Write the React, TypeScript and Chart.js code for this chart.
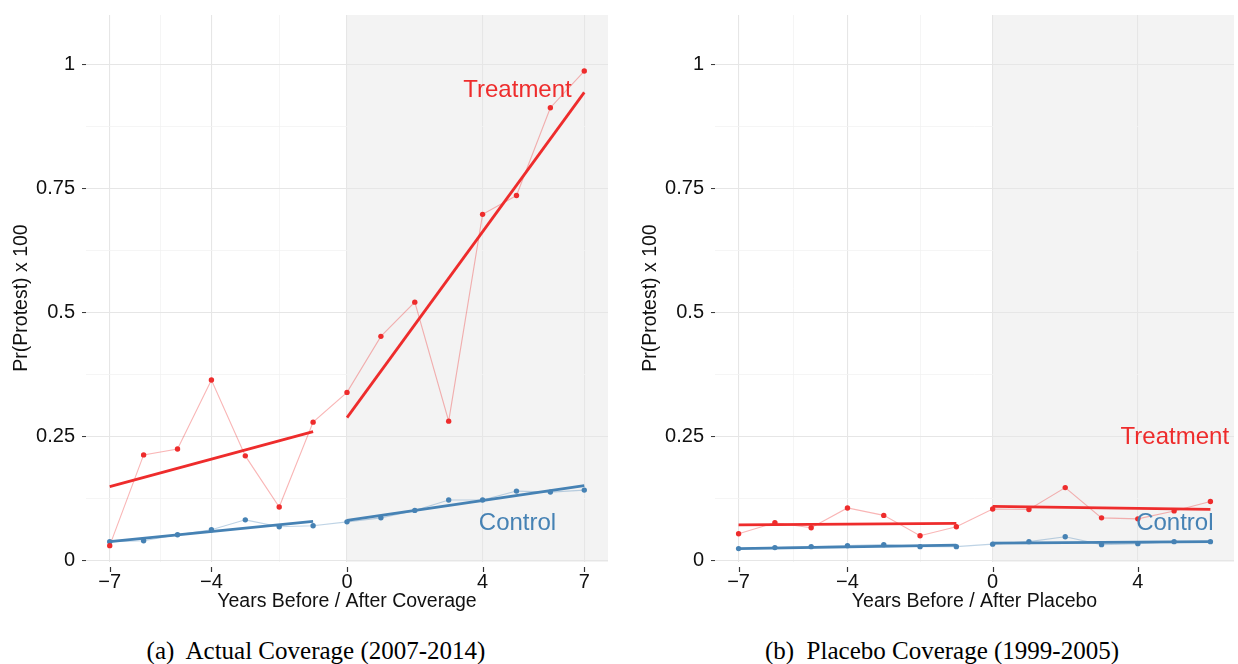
import React, { useEffect, useRef } from 'react';
import { Chart, registerables } from 'chart.js';

Chart.register(...registerables);

const RED = '#EE2C2C';
const RED_LIGHT = 'rgba(238,44,44,0.35)';
const BLUE = '#4682B4';
const BLUE_LIGHT = 'rgba(70,130,180,0.35)';
const FONT = '"Liberation Sans", Arial, Helvetica, sans-serif';

// ---------- Panel (a): Actual coverage ----------
const yearsA = [-7, -6, -5, -4, -3, -2, -1, 0, 1, 2, 3, 4, 5, 6, 7];
const treatA = [0.030, 0.213, 0.225, 0.364, 0.211, 0.108, 0.279, 0.339, 0.452, 0.521, 0.281, 0.698, 0.736, 0.913, 0.987];
const controlA = [0.038, 0.040, 0.052, 0.062, 0.082, 0.068, 0.070, 0.078, 0.086, 0.101, 0.122, 0.122, 0.140, 0.138, 0.142];
const fitPreYears = [-7, -1];
const fitPostYearsA = [0, 7];
const treatFitPreA = [0.149, 0.260];
const treatFitPostA = [0.288, 0.944];
const controlFitPreA = [0.038, 0.079];
const controlFitPostA = [0.081, 0.151];

// ---------- Panel (b): Placebo coverage ----------
const yearsB = [-7, -6, -5, -4, -3, -2, -1, 0, 1, 2, 3, 4, 5, 6];
const treatB = [0.054, 0.076, 0.066, 0.106, 0.091, 0.050, 0.068, 0.104, 0.103, 0.147, 0.086, 0.084, 0.100, 0.119];
const controlB = [0.024, 0.026, 0.028, 0.030, 0.032, 0.028, 0.028, 0.033, 0.038, 0.048, 0.032, 0.034, 0.038, 0.038];
const fitPostYearsB = [0, 6];
const treatFitPreB = [0.072, 0.075];
const treatFitPostB = [0.109, 0.103];
const controlFitPreB = [0.024, 0.031];
const controlFitPostB = [0.035, 0.038];

// ---------- Axes ----------
const yMajor = [0, 0.25, 0.5, 0.75, 1];
const yLabels = ['0', '0.25', '0.5', '0.75', '1'];
const yMinor = [0.125, 0.375, 0.625, 0.875];
const xMajorA = [-7, -4, 0, 4, 7];
const xMajorB = [-7, -4, 0, 4];
const xMinor = [-5.5, -2, 2, 5.5];
const yTitle = 'Pr(Protest) x 100';
const xTitleA = 'Years Before / After Coverage';
const xTitleB = 'Years Before / After Placebo';
const captionA = '(a)  Actual Coverage (2007-2014)';
const captionB = '(b)  Placebo Coverage (1999-2005)';

const pts = (xs: number[], ys: number[]) => xs.map((x, i) => ({ x, y: ys[i] }));
const fmtX = (v: number) => (v < 0 ? '\u2212' + Math.abs(v) : String(v));

type PanelProps = {
  years: number[];
  treat: number[];
  control: number[];
  fitPostYears: number[];
  treatFitPre: number[];
  treatFitPost: number[];
  controlFitPre: number[];
  controlFitPost: number[];
  xMin: number;
  xMax: number;
  xMajor: number[];
  xTitle: string;
  yAxisWidth: number;
  rightPad: number;
  yTitleX: number;
  treatLabel: { x: number; y: number };
  controlLabel: { x: number; y: number };
  left: number;
};

const CW = 619;
const CH = 620;
const PANEL_TOP = 15;
const PANEL_BOTTOM = 562;

function Panel(p: PanelProps) {
  const ref = useRef<HTMLCanvasElement | null>(null);
  useEffect(() => {
    if (!ref.current) return;
    const xMajor = p.xMajor;
    const isMajorX = (v: number) => xMajor.indexOf(v) >= 0;
    const isMajorY = (v: number) => yMajor.indexOf(v) >= 0;

    const decor = {
      id: 'decor',
      beforeDraw(chart: any) {
        const { ctx, chartArea, scales } = chart;
        const x0 = scales.x.getPixelForValue(0);
        ctx.save();
        ctx.fillStyle = '#f3f3f3';
        ctx.fillRect(x0, chartArea.top, chartArea.right - x0, chartArea.bottom - chartArea.top);
        ctx.restore();
      },
      afterDraw(chart: any) {
        const { ctx, chartArea, scales } = chart;
        ctx.save();
        // x tick marks
        ctx.strokeStyle = '#333';
        ctx.lineWidth = 1.2;
        xMajor.forEach((v) => {
          const px = Math.round(scales.x.getPixelForValue(v)) + 0.5;
          ctx.beginPath();
          ctx.moveTo(px, chartArea.bottom + 5);
          ctx.lineTo(px, chartArea.bottom + 10);
          ctx.stroke();
        });
        // axis titles
        ctx.fillStyle = '#111';
        ctx.font = `19.5px ${FONT}`;
        ctx.textAlign = 'center';
        ctx.textBaseline = 'middle';
        ctx.fillText(p.xTitle, (chartArea.left + chartArea.right) / 2, 602);
        ctx.save();
        ctx.translate(p.yTitleX, 298);
        ctx.rotate(-Math.PI / 2);
        ctx.fillText(yTitle, 0, 0);
        ctx.restore();
        // series labels
        ctx.font = `24px ${FONT}`;
        ctx.fillStyle = RED;
        ctx.fillText('Treatment', scales.x.getPixelForValue(p.treatLabel.x), scales.y.getPixelForValue(p.treatLabel.y));
        ctx.fillStyle = BLUE;
        ctx.fillText('Control', scales.x.getPixelForValue(p.controlLabel.x), scales.y.getPixelForValue(p.controlLabel.y));
        ctx.restore();
      },
    };

    const chart = new Chart(ref.current, {
      type: 'line',
      data: {
        datasets: [
          { data: pts(fitPreYears, p.treatFitPre), borderColor: RED, borderWidth: 2.8, pointRadius: 0, order: 1 },
          { data: pts(p.fitPostYears, p.treatFitPost), borderColor: RED, borderWidth: 2.8, pointRadius: 0, order: 1 },
          { data: pts(fitPreYears, p.controlFitPre), borderColor: BLUE, borderWidth: 2.8, pointRadius: 0, order: 2 },
          { data: pts(p.fitPostYears, p.controlFitPost), borderColor: BLUE, borderWidth: 2.8, pointRadius: 0, order: 2 },
          {
            data: pts(p.years, p.treat), borderColor: RED_LIGHT, borderWidth: 1.1,
            pointRadius: 2.7, pointBackgroundColor: RED, pointBorderWidth: 0, order: 3,
          },
          {
            data: pts(p.years, p.control), borderColor: BLUE_LIGHT, borderWidth: 1.1,
            pointRadius: 2.7, pointBackgroundColor: BLUE, pointBorderWidth: 0, order: 4,
          },
        ],
      } as any,
      options: {
        animation: false,
        responsive: false,
        events: [],
        layout: { padding: { top: PANEL_TOP, right: p.rightPad, left: 0, bottom: 0 } },
        plugins: { legend: { display: false }, tooltip: { enabled: false }, title: { display: false } },
        scales: {
          x: {
            type: 'linear',
            min: p.xMin,
            max: p.xMax,
            afterBuildTicks: (s: any) => {
              s.ticks = [...xMajor, ...xMinor].filter((v) => v >= p.xMin && v <= p.xMax).sort((a, b) => a - b).map((v) => ({ value: v }));
            },
            afterFit: (s: any) => {
              s.height = CH - PANEL_BOTTOM;
              s.paddingLeft = 0;
              s.paddingRight = 0;
            },
            ticks: {
              autoSkip: false,
              maxRotation: 0,
              padding: 8,
              color: '#111',
              font: { family: FONT, size: 20 },
              callback: (v: any) => (isMajorX(v) ? fmtX(v) : ''),
            },
            grid: {
              drawTicks: false,
              color: (c: any) => (c.tick && isMajorX(c.tick.value) ? '#e6e6e6' : '#f2f2f2'),
              lineWidth: (c: any) => (c.tick && isMajorX(c.tick.value) ? 1.1 : 0.8),
            },
            border: { display: false },
          },
          y: {
            type: 'linear',
            min: -0.003,
            max: 1.1,
            afterBuildTicks: (s: any) => {
              s.ticks = [...yMajor, ...yMinor].sort((a, b) => a - b).map((v) => ({ value: v }));
            },
            afterFit: (s: any) => {
              s.width = p.yAxisWidth;
              s.paddingTop = 0;
              s.paddingBottom = 0;
            },
            ticks: {
              autoSkip: false,
              padding: 7,
              color: '#111',
              font: { family: FONT, size: 20 },
              callback: (v: any) => {
                const i = yMajor.indexOf(v);
                return i >= 0 ? yLabels[i] : '';
              },
            },
            grid: {
              tickLength: 4,
              tickWidth: 1,
              tickColor: (c: any) => (c.tick && isMajorY(c.tick.value) ? '#333' : 'rgba(0,0,0,0)'),
              color: (c: any) => (c.tick && isMajorY(c.tick.value) ? '#e6e6e6' : '#f2f2f2'),
              lineWidth: (c: any) => (c.tick && isMajorY(c.tick.value) ? 1.1 : 0.8),
            },
            border: { display: false },
          },
        },
      } as any,
      plugins: [decor],
    });
    return () => chart.destroy();
  }, []);
  return (
    <canvas
      ref={ref}
      width={CW}
      height={CH}
      style={{ position: 'absolute', left: p.left, top: 0, width: CW, height: CH, display: 'block' }}
    />
  );
}

const captionStyle: React.CSSProperties = {
  position: 'absolute',
  top: 636,
  fontFamily: '"Liberation Serif", "Times New Roman", serif',
  fontSize: 25,
  lineHeight: '30px',
  whiteSpace: 'pre',
  textAlign: 'center',
  width: 500,
  color: '#000',
};

export default function App() {
  return (
    <div style={{ position: 'fixed', left: 0, top: 0, width: 1238, height: 664, background: '#fff', overflow: 'hidden' }}>
      <Panel
        years={yearsA}
        treat={treatA}
        control={controlA}
        fitPostYears={fitPostYearsA}
        treatFitPre={treatFitPreA}
        treatFitPost={treatFitPostA}
        controlFitPre={controlFitPreA}
        controlFitPost={controlFitPostA}
        xMin={-7.7}
        xMax={7.7}
        xMajor={xMajorA}
        xTitle={xTitleA}
        yAxisWidth={86}
        rightPad={11}
        yTitleX={22}
        treatLabel={{ x: 5.03, y: 0.949 }}
        controlLabel={{ x: 5.03, y: 0.074 }}
        left={0}
      />
      <Panel
        years={yearsB}
        treat={treatB}
        control={controlB}
        fitPostYears={fitPostYearsB}
        treatFitPre={treatFitPreB}
        treatFitPost={treatFitPostB}
        controlFitPre={controlFitPreB}
        controlFitPost={controlFitPostB}
        xMin={-7.65}
        xMax={6.65}
        xMajor={xMajorB}
        xTitle={xTitleB}
        yAxisWidth={96}
        rightPad={1}
        yTitleX={32}
        treatLabel={{ x: 5.02, y: 0.249 }}
        controlLabel={{ x: 5.02, y: 0.074 }}
        left={619}
      />
      <div style={{ ...captionStyle, left: 316 - 250 }}>{captionA}</div>
      <div style={{ ...captionStyle, left: 942 - 250 }}>{captionB}</div>
    </div>
  );
}
